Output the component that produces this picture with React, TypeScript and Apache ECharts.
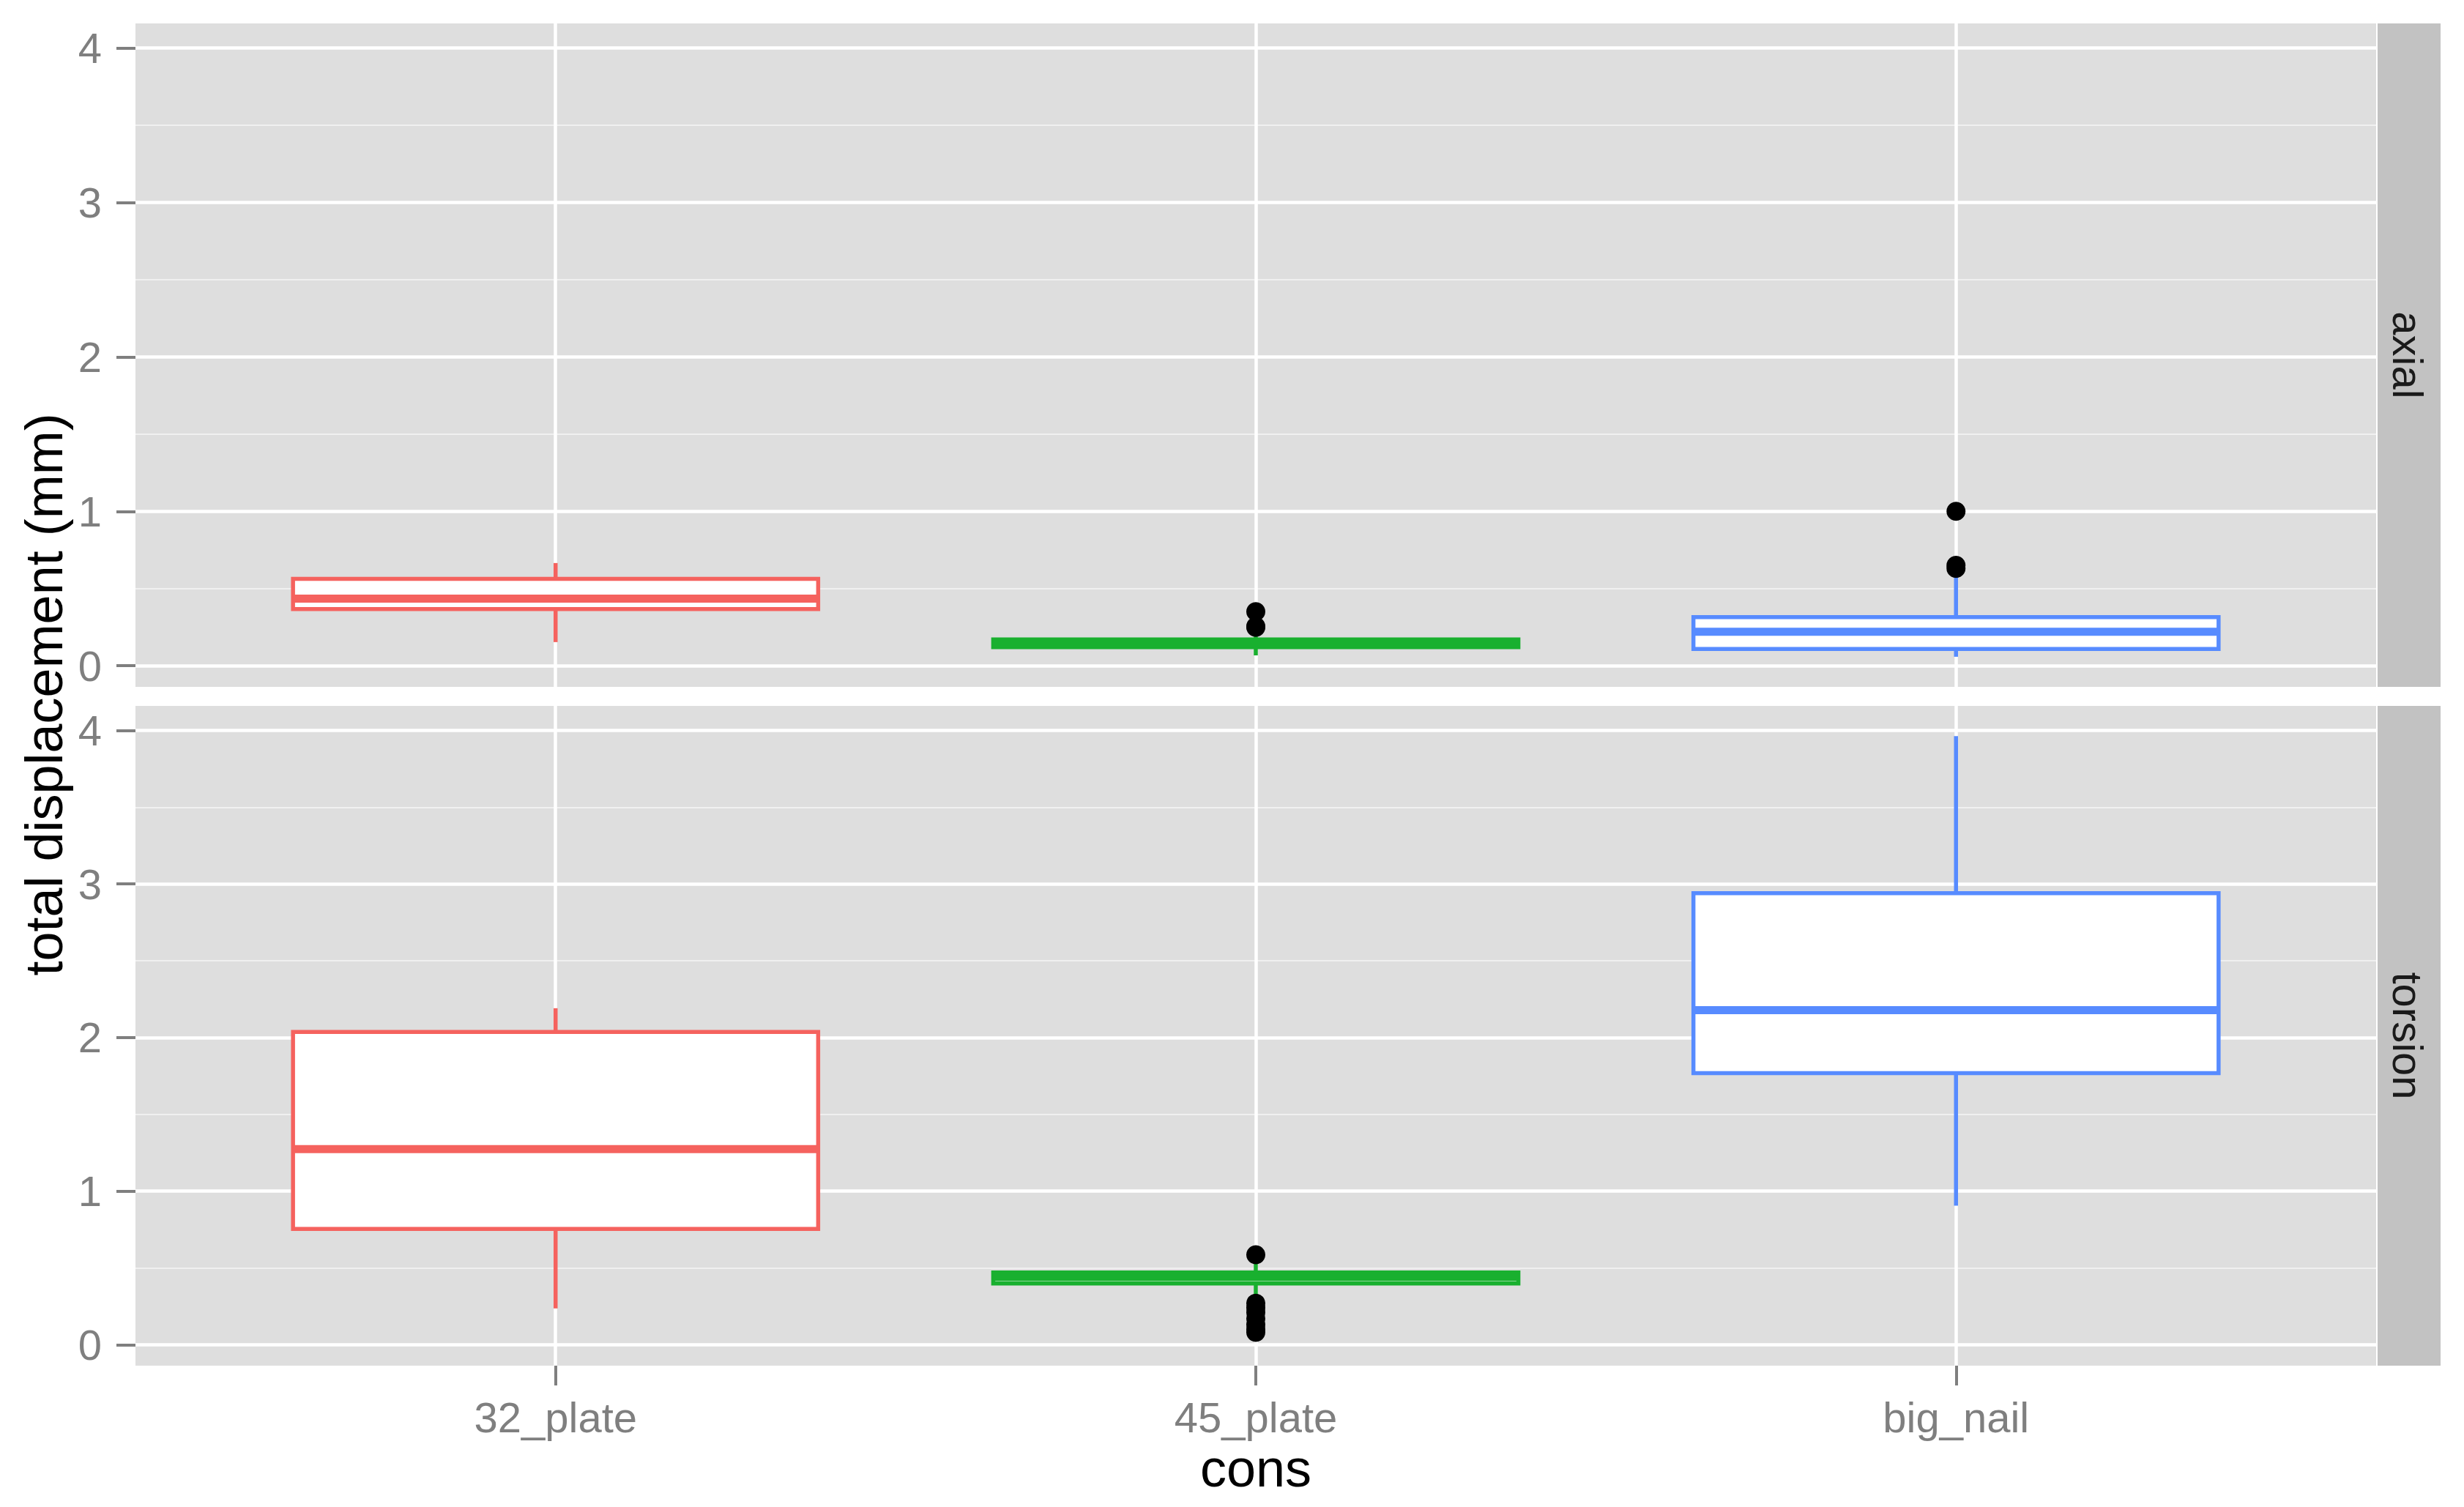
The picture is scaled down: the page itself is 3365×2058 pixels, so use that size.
import React, { useEffect, useRef } from "react";
import * as echarts from "echarts";

// ---------- data ----------
const categories = ["32_plate", "45_plate", "big_nail"];
const facets = ["axial", "torsion"];
const xTicks = [1, 2, 3];
const yTicks = [0, 1, 2, 3, 4];
const yMinorTicks = [0.5, 1.5, 2.5, 3.5];
const yTitle = "total displacement (mm)";
const xTitle = "cons";

// [lower whisker, Q1, median, Q3, upper whisker] per category
const axialBoxes = [
  [0.153, 0.367, 0.434, 0.562, 0.665],
  [0.067, 0.12, 0.145, 0.17, 0.2],
  [0.058, 0.109, 0.22, 0.315, 0.605],
];
const torsionBoxes = [
  [0.236, 0.754, 1.273, 2.036, 2.191],
  [0.32, 0.398, 0.44, 0.47, 0.53],
  [0.905, 1.768, 2.179, 2.94, 3.963],
];
const axialOutliers = [[], [0.35, 0.255, 0.248], [1.0, 0.65, 0.63]];
const torsionOutliers = [[], [0.585, 0.27, 0.24, 0.21, 0.17, 0.13, 0.1, 0.08], []];

const colors = ["#F5625E", "#19B02F", "#578BFF"];

// ---------- layout / style ----------
const W = 3365;
const H = 2058;
const panelLeft = 185;
const panelRight = 3245;
const panels = [
  { top: 32, bottom: 938 },
  { top: 964, bottom: 1865 },
];
const stripLeft = 3247;
const stripRight = 3333;
const yMin = -0.137;
const yMax = 4.16;
const xMin = 0.4;
const xMax = 3.6;
const font = "'Liberation Sans', Arial, Helvetica, sans-serif";
const grey50 = "#7F7F7F";

const boxData = [axialBoxes, torsionBoxes];
const outlierData = [axialOutliers, torsionOutliers];

function renderBox(params: any, api: any) {
  const x = api.value(0);
  const lo = api.value(1);
  const q1 = api.value(2);
  const med = api.value(3);
  const q3 = api.value(4);
  const hi = api.value(5);
  const col = colors[params.dataIndex % colors.length];
  const halfW = api.size([0.75, 0])[0] / 2;
  const pLo = api.coord([x, lo]);
  const pQ1 = api.coord([x, q1]);
  const pMed = api.coord([x, med]);
  const pQ3 = api.coord([x, q3]);
  const pHi = api.coord([x, hi]);
  const cx = pMed[0];
  return {
    type: "group",
    children: [
      {
        type: "line",
        shape: { x1: cx, y1: pHi[1], x2: cx, y2: pQ3[1] },
        style: { stroke: col, lineWidth: 5.5 },
      },
      {
        type: "line",
        shape: { x1: cx, y1: pQ1[1], x2: cx, y2: pLo[1] },
        style: { stroke: col, lineWidth: 5.5 },
      },
      {
        type: "rect",
        shape: { x: cx - halfW, y: pQ3[1], width: halfW * 2, height: pQ1[1] - pQ3[1] },
        style: { fill: "#FFFFFF", stroke: col, lineWidth: 5.5 },
      },
      {
        type: "line",
        shape: { x1: cx - halfW, y1: pMed[1], x2: cx + halfW, y2: pMed[1] },
        style: { stroke: col, lineWidth: 11 },
      },
    ],
  };
}

export default function App() {
  const ref = useRef<HTMLDivElement>(null);

  useEffect(() => {
    document.body.style.margin = "0";
    if (!ref.current) return;
    const chart = echarts.init(ref.current, undefined, { renderer: "svg" });

    const grid = panels.map((p) => ({
      left: panelLeft,
      top: p.top,
      width: panelRight - panelLeft,
      height: p.bottom - p.top,
      show: true,
      backgroundColor: "#DEDEDE",
      borderWidth: 0,
      containLabel: false,
      outerBoundsMode: "none",
    }));

    const xAxis = panels.map((_, i) => ({
      type: "value",
      gridIndex: i,
      min: xMin,
      max: xMax,
      axisLine: { show: false, onZero: false },
      axisTick: {
        show: i === 1,
        customValues: xTicks,
        length: 27,
        lineStyle: { color: grey50, width: 4 },
      },
      axisLabel: {
        show: i === 1,
        customValues: xTicks,
        formatter: (v: number) => categories[Math.round(v) - 1] ?? "",
        margin: 41,
        fontSize: 58,
        color: grey50,
        fontFamily: font,
      },
      splitLine: {
        show: true,
        customValues: xTicks,
        lineStyle: { color: "#FFFFFF", width: 4.5 },
      },
    }));

    const yAxis: any[] = [];
    panels.forEach((_, i) => {
      yAxis.push({
        type: "value",
        gridIndex: i,
        position: "left",
        min: yMin,
        max: yMax,
        axisLine: { show: false, onZero: false },
        axisTick: { show: false, customValues: yMinorTicks },
        axisLabel: { show: false, customValues: yMinorTicks },
        splitLine: {
          show: true,
          customValues: yMinorTicks,
          lineStyle: { color: "#F0F0F0", width: 2 },
        },
      });
      yAxis.push({
        type: "value",
        gridIndex: i,
        position: "left",
        min: yMin,
        max: yMax,
        axisLine: { show: false, onZero: false },
        axisTick: {
          show: true,
          customValues: yTicks,
          length: 26,
          lineStyle: { color: grey50, width: 4 },
        },
        axisLabel: {
          show: true,
          customValues: yTicks,
          margin: 46,
          fontSize: 58,
          color: grey50,
          fontFamily: font,
          formatter: (v: number) => String(v),
        },
        splitLine: {
          show: true,
          customValues: yTicks,
          lineStyle: { color: "#FFFFFF", width: 4.5 },
        },
      });
    });

    const series: any[] = [];
    panels.forEach((_, i) => {
      series.push({
        type: "custom",
        xAxisIndex: i,
        yAxisIndex: i * 2 + 1,
        renderItem: renderBox,
        encode: { x: 0, y: [1, 2, 3, 4, 5] },
        data: boxData[i].map((b, k) => [k + 1, ...b]),
        z: 3,
      });
      const pts: number[][] = [];
      outlierData[i].forEach((vals, k) => vals.forEach((v) => pts.push([k + 1, v])));
      series.push({
        type: "scatter",
        xAxisIndex: i,
        yAxisIndex: i * 2 + 1,
        data: pts,
        symbol: "circle",
        symbolSize: 26,
        itemStyle: { color: "#000000", opacity: 1 },
        z: 4,
      });
    });

    const graphic: any[] = [];
    panels.forEach((p, i) => {
      graphic.push({
        type: "rect",
        shape: { x: stripLeft, y: p.top, width: stripRight - stripLeft, height: p.bottom - p.top },
        style: { fill: "#C2C2C2" },
        silent: true,
      });
      graphic.push({
        type: "text",
        x: (stripLeft + stripRight) / 2 - 2,
        y: (p.top + p.bottom) / 2,
        rotation: -Math.PI / 2,
        style: {
          text: facets[i],
          fontSize: 58,
          fontFamily: font,
          fill: "#1A1A1A",
          align: "center",
          verticalAlign: "middle",
        },
        silent: true,
      });
    });
    graphic.push({
      type: "text",
      x: 60,
      y: (panels[0].top + panels[1].bottom) / 2,
      rotation: Math.PI / 2,
      style: {
        text: yTitle,
        fontSize: 72,
        fontFamily: font,
        fill: "#000000",
        align: "center",
        verticalAlign: "middle",
      },
      silent: true,
    });
    graphic.push({
      type: "text",
      x: (panelLeft + panelRight) / 2,
      y: 2005,
      style: {
        text: xTitle,
        fontSize: 72,
        fontFamily: font,
        fill: "#000000",
        align: "center",
        verticalAlign: "middle",
      },
      silent: true,
    });

    chart.setOption({
      animation: false,
      backgroundColor: "#FFFFFF",
      grid,
      xAxis,
      yAxis,
      series,
      graphic,
    });

    return () => {
      chart.dispose();
    };
  }, []);

  return <div ref={ref} style={{ width: W, height: H }} />;
}
